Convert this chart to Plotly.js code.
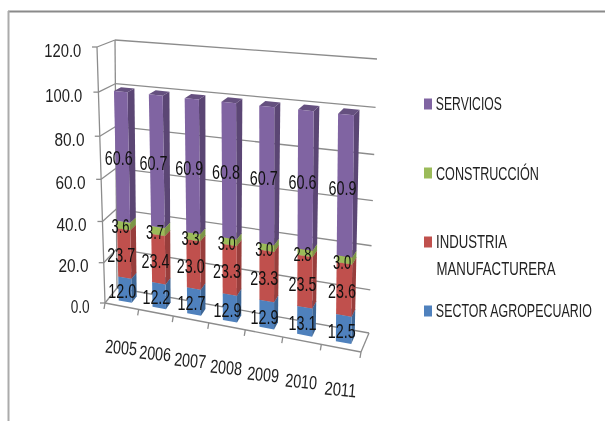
<!DOCTYPE html>
<html><head><meta charset="utf-8">
<script src="https://cdn.plot.ly/plotly-3.0.1.min.js"></script>
<style>html,body{margin:0;padding:0;background:#fff}#c{width:605px;height:421px;filter:blur(0.45px)}</style>
</head><body><div id="c"></div>
<script>
const categories=['2005','2006','2007','2008','2009','2010','2011'];
const agro=[12.0,12.2,12.7,12.9,12.9,13.1,12.5];
const industria=[23.7,23.4,23.0,23.3,23.3,23.5,23.6];
const construccion=[3.6,3.7,3.3,3.0,3.0,2.8,3.0];
const servicios=[60.6,60.7,60.9,60.8,60.7,60.6,60.9];
const valueTicks=[0,20,40,60,80,100,120];
const legendLines=['SERVICIOS','CONSTRUCCIÓN','INDUSTRIA','MANUFACTURERA','SECTOR AGROPECUARIO'];
const legendWidths=[66,103,71,119,156];
const legendYs=[104,173,242,269,311];
const FONT='"Liberation Sans",sans-serif';
const series=[
 {v:agro,front:'#4F81BD',side:'#3E6796',top:'#46729F'},
 {v:industria,front:'#C0504D',side:'#983E3C',top:'#A84643'},
 {v:construccion,front:'#9BBB59',side:'#7B9546',top:'#88A44E'},
 {v:servicios,front:'#8064A2',side:'#5B4674',top:'#65507F'}];
const C={fl0:[105,303],fl1:[97,47],fr0:[361,352],fr1:[363,71],bl0:[117,288],bl1:[115,40],br0:[369,333],br1:[377,59]};
const mix=(a,b,t)=>[a[0]+(b[0]-a[0])*t,a[1]+(b[1]-a[1])*t];
function P(u,d,v){
 const t=v/120,w=t/(1+0.07*(1-t)),q=u/(1+0.1*(1-u));
 const fl=mix(C.fl0,C.fl1,w),fr=mix(C.fr0,C.fr1,w),bl=mix(C.bl0,C.bl1,w),br=mix(C.br0,C.br1,w);
 return mix(mix(fl,fr,q),mix(bl,br,q),d);
}
const traces=[];
function poly(pts,color){
 traces.push({type:'scatter',mode:'lines',x:pts.map(p=>p[0]).concat(pts[0][0]),y:pts.map(p=>p[1]).concat(pts[0][1]),
  fill:'toself',fillcolor:color,line:{width:0,color:color},hoverinfo:'skip',showlegend:false});
}
function seg(a,b,w){
 traces.push({type:'scatter',mode:'lines',x:[a[0],b[0]],y:[a[1],b[1]],line:{color:'#8C8C8C',width:w||1.3},hoverinfo:'skip',showlegend:false});
}
valueTicks.forEach(v=>{
 seg(P(0,0,v),P(0,1,v)); seg(P(0,1,v),P(1,1,v));
 const a=P(0,0,v); seg(a,[a[0]-5,a[1]]);
});
seg(P(0,0,0),P(0,0,120)); seg(P(0,1,0),P(0,1,120));
seg(P(0,0,0),P(1,0,0)); seg(P(1,0,0),P(1,1,0));
for(let i=0;i<=categories.length;i++){const a=P(i/7,0,0);seg(a,[a[0]-1,a[1]+6]);}
const bw=0.39,d0=0.3,d1=0.72;
categories.forEach((c,i)=>{
 const u0=(i+.5)/7-bw/14,u1=u0+bw/7; let b=0;
 series.forEach(s=>{
  const t=b+s.v[i];
  poly([P(u1,d0,b),P(u1,d1,b),P(u1,d1,t),P(u1,d0,t)],s.side);
  poly([P(u0,d0,t),P(u1,d0,t),P(u1,d1,t),P(u0,d1,t)],s.top);
  poly([P(u0,d0,b),P(u1,d0,b),P(u1,d0,t),P(u0,d0,t)],s.front);
  b=t;
 });
});
const lx=[],ly=[],lt=[];
categories.forEach((c,i)=>{let b=0;series.forEach(s=>{
 const p=P((i+.5)/7,0.07,b+s.v[i]/2);lx.push(p[0]);ly.push(p[1]);lt.push(s.v[i].toFixed(1));b+=s.v[i];});});
traces.push({type:'scatter',mode:'text',x:lx,y:ly,text:lt,textposition:'middle center',textfont:{family:FONT,size:20,color:'#111'},hoverinfo:'skip',showlegend:false});
const ann=[],targets=[];
valueTicks.forEach(v=>{
 const p=P(0,0,v),w=v>=100?37:(v>0?30:19);
 ann.push({xref:'x',yref:'y',x:p[0]-15.5-w/2,y:p[1]+3,text:v.toFixed(1),showarrow:false,font:{family:FONT,size:19,color:'#222'}});targets.push(w);
});
categories.forEach((c,i)=>{
 const p=P((i+.5)/7,0,0);
 ann.push({xref:'x',yref:'y',x:p[0]-1,y:p[1]+41,text:c,showarrow:false,textangle:5,font:{family:FONT,size:19,color:'#222'}});targets.push(32);
});
legendLines.forEach((t,i)=>{
 ann.push({xref:'x',yref:'y',x:436+legendWidths[i]/2,y:legendYs[i],text:t,showarrow:false,font:{family:FONT,size:18,color:'#222'}});targets.push(legendWidths[i]);
});
const shapes=[];
[3,2,1,0].forEach((k,j)=>{
 const y=[104,173,242,311][j];
 shapes.push({type:'rect',xref:'x',yref:'y',x0:424,x1:432,y0:y-5.5,y1:y+5.5,fillcolor:series[k].front,line:{width:0}});
});
shapes.push({type:'line',xref:'x',yref:'y',x0:8,x1:605,y0:11.5,y1:11.5,line:{color:'#8A8A8A',width:2}});
shapes.push({type:'line',xref:'x',yref:'y',x0:8.5,x1:8.5,y0:11,y1:421,line:{color:'#ABABAB',width:2}});
// the reference's type is condensed: scale each real text horizontally about its centre
function squeeze(el,target){
 const s=target/el.getComputedTextLength(),cx=+el.getAttribute('x')||0,old=el.getAttribute('transform')||'';
 el.setAttribute('transform',old+' translate('+cx+',0) scale('+s+',1) translate('+(-cx)+',0)');
}
Plotly.newPlot('c',traces,{width:605,height:421,margin:{l:0,r:0,t:0,b:0},paper_bgcolor:'#fff',plot_bgcolor:'#fff',showlegend:false,
 xaxis:{range:[0,605],visible:false,fixedrange:true},yaxis:{range:[421,0],visible:false,fixedrange:true},annotations:ann,shapes:shapes},{staticPlot:true}).then(()=>{
 document.querySelectorAll('.annotation').forEach((g,i)=>{
  squeeze(g.querySelector('.annotation-text'),targets[i]);
  g.querySelectorAll('rect').forEach(r=>{
   const w=+r.getAttribute('width'),x=+r.getAttribute('x')||0;
   r.setAttribute('x',x+(w-targets[i])/2);r.setAttribute('width',targets[i]);
  });
 });
 document.querySelectorAll('.textpoint text').forEach(el=>squeeze(el,el.textContent.length>3?28:18));
});
</script></body></html>
